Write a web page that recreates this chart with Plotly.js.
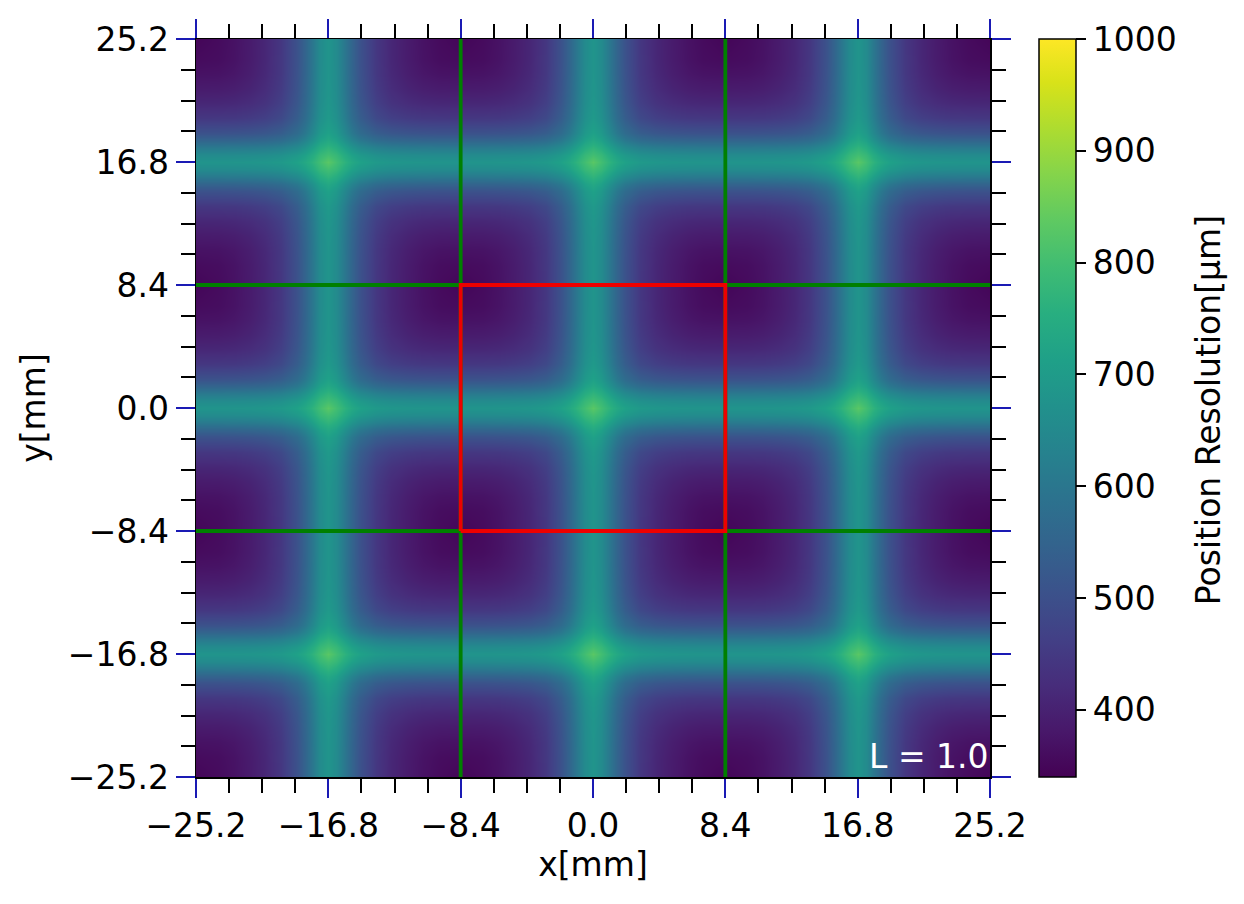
<!DOCTYPE html>
<html>
<head>
<meta charset="utf-8">
<script src="https://cdn.plot.ly/plotly-3.0.1.min.js"></script>
<style>html,body{margin:0;padding:0;background:#fff;}#chart{width:1244px;height:904px;}</style>
</head>
<body>
<div id="chart"></div>
<script>
// ---- data ----
// distances (mm) from the nearest bright (peak) line, used for one quarter tile
const tileOffsets = [0, 0.5, 1, 1.5, 2, 3, 4, 5, 6, 7, 8.4];
// centres of the bright lines (mm), both in x and y
const peakCenters = [-16.8, 0, 16.8];
// position resolution [um] in a quarter tile: rows = distance in y, cols = distance in x
const tileZ = [
  [830, 800, 768, 737, 715, 694, 686, 682, 681, 680, 680],
  [800, 782, 748, 715, 693, 670, 661, 658, 656, 655, 655],
  [768, 748, 711, 675, 649, 623, 612, 608, 606, 605, 605],
  [737, 715, 675, 634, 604, 572, 559, 554, 551, 550, 550],
  [715, 693, 649, 604, 570, 533, 517, 510, 507, 505, 505],
  [694, 670, 623, 572, 533, 485, 463, 453, 447, 446, 445],
  [686, 661, 612, 559, 517, 463, 436, 422, 414, 411, 410],
  [682, 658, 608, 554, 510, 453, 422, 405, 394, 389, 388],
  [681, 656, 606, 551, 507, 447, 414, 394, 379, 372, 370],
  [680, 655, 605, 550, 505, 446, 411, 389, 372, 362, 358],
  [680, 655, 605, 550, 505, 445, 410, 388, 370, 358, 348]
];
const axisRange = [-25.2, 25.2];
const tickVals = [-25.2, -16.8, -8.4, 0, 8.4, 16.8, 25.2];
const tickText = ['\u221225.2', '\u221216.8', '\u22128.4', '0.0', '8.4', '16.8', '25.2'];
const cbTickVals = [400, 500, 600, 700, 800, 900, 1000];
const zMin = 340, zMax = 1000;
const gridLinePos = [-8.4, 8.4];      // green lines
const boxLo = -8.4, boxHi = 8.4;      // red square
const labelText = 'L = 1.0';
const cbTitle = 'Position Resolution[\u03bcm]';

// ---- build the full grid by tiling the quarter tile ----
function buildCoords() {
  const pts = [];
  peakCenters.forEach(c => {
    tileOffsets.forEach((d, k) => {
      [c - d, c + d].forEach(p => {
        const v = Math.round(p * 100) / 100;
        if (v >= axisRange[0] - 1e-9 && v <= axisRange[1] + 1e-9 &&
            !pts.some(q => Math.abs(q.pos - v) < 1e-6)) pts.push({pos: v, k: k});
      });
    });
  });
  pts.sort((a, b) => a.pos - b.pos);
  return pts;
}
const coords = buildCoords();
const xs = coords.map(p => p.pos);
const ys = coords.map(p => p.pos);
const z = coords.map(py => coords.map(px => tileZ[py.k][px.k]));

// green lines
const gx = [], gy = [];
gridLinePos.forEach(p => { gx.push(p, p, null); gy.push(axisRange[0], axisRange[1], null); });
gridLinePos.forEach(p => { gx.push(axisRange[0], axisRange[1], null); gy.push(p, p, null); });

const FONT = 'DejaVu Sans, sans-serif';
const FS = 33;
const MAJ = '#1a1ab4';

const heat = {
  type: 'heatmap', x: xs, y: ys, z: z,
  colorscale: 'Viridis', zmin: zMin, zmax: zMax, zsmooth: 'best',
  hoverinfo: 'skip',
  colorbar: {
    x: (1039 - 196) / 794, xanchor: 'left', xpad: 0,
    y: 0.5, yanchor: 'middle', ypad: 0, len: 1, lenmode: 'fraction',
    thickness: 37, thicknessmode: 'pixels',
    outlinecolor: '#000', outlinewidth: 1.5,
    ticks: 'outside', ticklen: 10, tickwidth: 2, tickcolor: '#000',
    tickvals: cbTickVals, ticktext: cbTickVals.map(String),
    tickfont: {family: FONT, size: FS, color: '#000'}
  }
};
const green = {
  type: 'scatter', mode: 'lines', x: gx, y: gy, xaxis: 'x2', yaxis: 'y2',
  line: {color: '#008000', width: 3.8}, hoverinfo: 'skip', showlegend: false
};
const red = {
  type: 'scatter', mode: 'lines', xaxis: 'x2', yaxis: 'y2',
  x: [boxLo, boxHi, boxHi, boxLo, boxLo], y: [boxLo, boxLo, boxHi, boxHi, boxLo],
  line: {color: '#ee0000', width: 3.8}, hoverinfo: 'skip', showlegend: false
};

function axisBase(extra) {
  return Object.assign({
    range: axisRange, autorange: false, fixedrange: true,
    tickmode: 'array', tickvals: tickVals, ticktext: tickText,
    ticks: 'outside', ticklen: 19, tickwidth: 2, tickcolor: MAJ,
    minor: {tick0: -25.2, dtick: 2.1, ticks: 'outside', ticklen: 14, tickwidth: 2, tickcolor: '#000', showgrid: false},
    showline: true, linecolor: '#000', linewidth: 1.5,
    showgrid: false, zeroline: false,
    tickfont: {family: FONT, size: FS, color: '#000'}
  }, extra);
}

const layout = {
  width: 1244, height: 904,
  margin: {l: 196, r: 254, t: 39, b: 127, pad: 0},
  paper_bgcolor: '#fff', plot_bgcolor: '#fff',
  showlegend: false,
  xaxis: axisBase({title: {text: 'x[mm]', font: {family: FONT, size: FS, color: '#000'}, standoff: 8}}),
  yaxis: axisBase({title: {text: 'y[mm]', font: {family: FONT, size: FS, color: '#000'}, standoff: 12}}),
  xaxis2: axisBase({overlaying: 'x', side: 'top', anchor: 'y2', showticklabels: false}),
  yaxis2: axisBase({overlaying: 'y', side: 'right', anchor: 'x2', showticklabels: false}),
  annotations: [{
    text: labelText, xref: 'paper', yref: 'paper', x: 1, y: 0,
    xanchor: 'right', yanchor: 'bottom', showarrow: false, borderpad: 0,
    font: {family: FONT, size: FS, color: '#fff'}
  }, {
    text: cbTitle, xref: 'paper', yref: 'paper', x: (1208 - 196) / 794, y: 0.497,
    xanchor: 'center', yanchor: 'middle', textangle: -90, showarrow: false,
    font: {family: FONT, size: FS, color: '#000'}
  }]
};

Plotly.newPlot('chart', [heat, green, red], layout, {displayModeBar: false, staticPlot: true});
</script>
</body>
</html>
